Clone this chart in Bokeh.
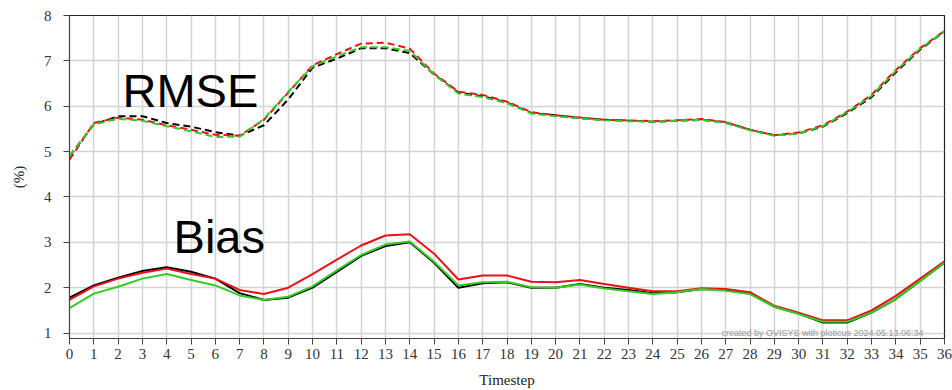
from bokeh.plotting import figure
from bokeh.models import Range1d, Label, FixedTicker
from bokeh.embed import file_html
from bokeh.resources import INLINE

timesteps = list(range(37))

rmse_black = [4.90, 5.60, 5.78, 5.78, 5.63, 5.55, 5.43, 5.35, 5.58, 6.15, 6.85, 7.05, 7.28, 7.28, 7.17, 6.70,
              6.30, 6.22, 6.08, 5.85, 5.80, 5.74, 5.70, 5.68, 5.66, 5.68, 5.70, 5.64, 5.48, 5.36, 5.40, 5.55,
              5.85, 6.20, 6.75, 7.25, 7.65]
rmse_red = [4.82, 5.63, 5.75, 5.70, 5.58, 5.48, 5.37, 5.35, 5.70, 6.30, 6.90, 7.15, 7.38, 7.40, 7.27, 6.72,
            6.32, 6.25, 6.10, 5.87, 5.80, 5.75, 5.70, 5.69, 5.67, 5.69, 5.72, 5.65, 5.48, 5.36, 5.42, 5.58,
            5.88, 6.25, 6.80, 7.28, 7.66]
rmse_green = [4.90, 5.60, 5.72, 5.68, 5.56, 5.45, 5.32, 5.33, 5.72, 6.32, 6.88, 7.10, 7.30, 7.30, 7.22, 6.70,
              6.28, 6.20, 6.07, 5.84, 5.78, 5.73, 5.69, 5.67, 5.66, 5.68, 5.70, 5.63, 5.47, 5.35, 5.40, 5.56,
              5.87, 6.23, 6.78, 7.27, 7.65]

bias_black = [1.78, 2.05, 2.22, 2.37, 2.45, 2.35, 2.20, 1.88, 1.73, 1.78, 2.00, 2.35, 2.70, 2.92, 3.00, 2.55,
              2.00, 2.10, 2.12, 2.00, 2.00, 2.08, 2.00, 1.95, 1.88, 1.90, 1.97, 1.95, 1.87, 1.58, 1.43, 1.23,
              1.23, 1.45, 1.75, 2.15, 2.55]
bias_red = [1.73, 2.03, 2.20, 2.33, 2.42, 2.30, 2.20, 1.95, 1.86, 2.00, 2.30, 2.62, 2.93, 3.15, 3.18, 2.75,
            2.18, 2.27, 2.27, 2.13, 2.12, 2.17, 2.08, 2.00, 1.92, 1.92, 1.99, 1.97, 1.90, 1.60, 1.45, 1.28,
            1.28, 1.50, 1.82, 2.20, 2.58]
bias_green = [1.55, 1.87, 2.02, 2.20, 2.30, 2.17, 2.05, 1.83, 1.73, 1.80, 2.03, 2.38, 2.72, 2.95, 3.02, 2.57,
              2.05, 2.12, 2.13, 2.01, 2.00, 2.07, 1.98, 1.92, 1.86, 1.90, 1.97, 1.93, 1.86, 1.58, 1.42, 1.25,
              1.25, 1.45, 1.75, 2.15, 2.55]

y_ticks = [1, 2, 3, 4, 5, 6, 7, 8]

p = figure(width=952, height=390, output_backend="svg", toolbar_location=None,
           x_range=Range1d(0, 36), y_range=Range1d(0.88, 8),
           min_border_left=69, min_border_right=8, min_border_top=15, min_border_bottom=50)

p.outline_line_color = "#222222"
p.outline_line_width = 1.2
p.background_fill_color = "white"

for ax in (p.xaxis[0], p.yaxis[0]):
    ax.major_label_text_font = "Liberation Serif"
    ax.major_label_text_font_size = "15px"
    ax.major_label_text_color = "#333333"
    ax.axis_label_text_font = "Liberation Serif"
    ax.axis_label_text_font_size = "15px"
    ax.axis_label_text_font_style = "normal"
    ax.axis_label_text_color = "#222222"
    ax.axis_line_color = "#444444"
    ax.major_tick_line_color = "#444444"
    ax.minor_tick_line_color = None
    ax.major_tick_in = 0
    ax.major_tick_out = 6

p.xaxis.ticker = FixedTicker(ticks=timesteps)
p.yaxis.ticker = FixedTicker(ticks=y_ticks)
p.xaxis.axis_label = "Timestep"
p.yaxis.axis_label = "(%)"
p.xaxis.axis_label_standoff = 10
p.yaxis.axis_label_standoff = 14
p.xaxis.major_label_standoff = 4
p.yaxis.major_label_standoff = 12

p.xgrid.ticker = FixedTicker(ticks=timesteps)
p.ygrid.ticker = FixedTicker(ticks=y_ticks)
p.grid.grid_line_color = "#d4d4d4"
p.grid.grid_line_width = 1.5

for ys, c in ((bias_black, "black"), (bias_red, "#e8111a"), (bias_green, "#33cc22")):
    p.line(timesteps, ys, line_color=c, line_width=2)

for ys, c in ((rmse_black, "black"), (rmse_red, "#e8111a"), (rmse_green, "#33cc22")):
    p.line(timesteps, ys, line_color=c, line_width=2, line_dash="7 4")

p.add_layout(Label(x=2.18, y=6.34, text="RMSE", text_font="Liberation Sans",
                   text_font_size="47px", text_color="black", text_baseline="alphabetic"))
p.add_layout(Label(x=4.28, y=3.12, text="Bias", text_font="Liberation Sans",
                   text_font_size="47px", text_color="black", text_baseline="alphabetic"))

p.add_layout(Label(x=652, y=1, x_units="screen", y_units="screen",
                   text="created by OVISYS with ploticus 2024.05.13.06:34", text_baseline="bottom",
                   text_font="Liberation Sans", text_font_size="9px", text_color="#999999"))

open("out.html", "w").write(file_html(p, INLINE))
